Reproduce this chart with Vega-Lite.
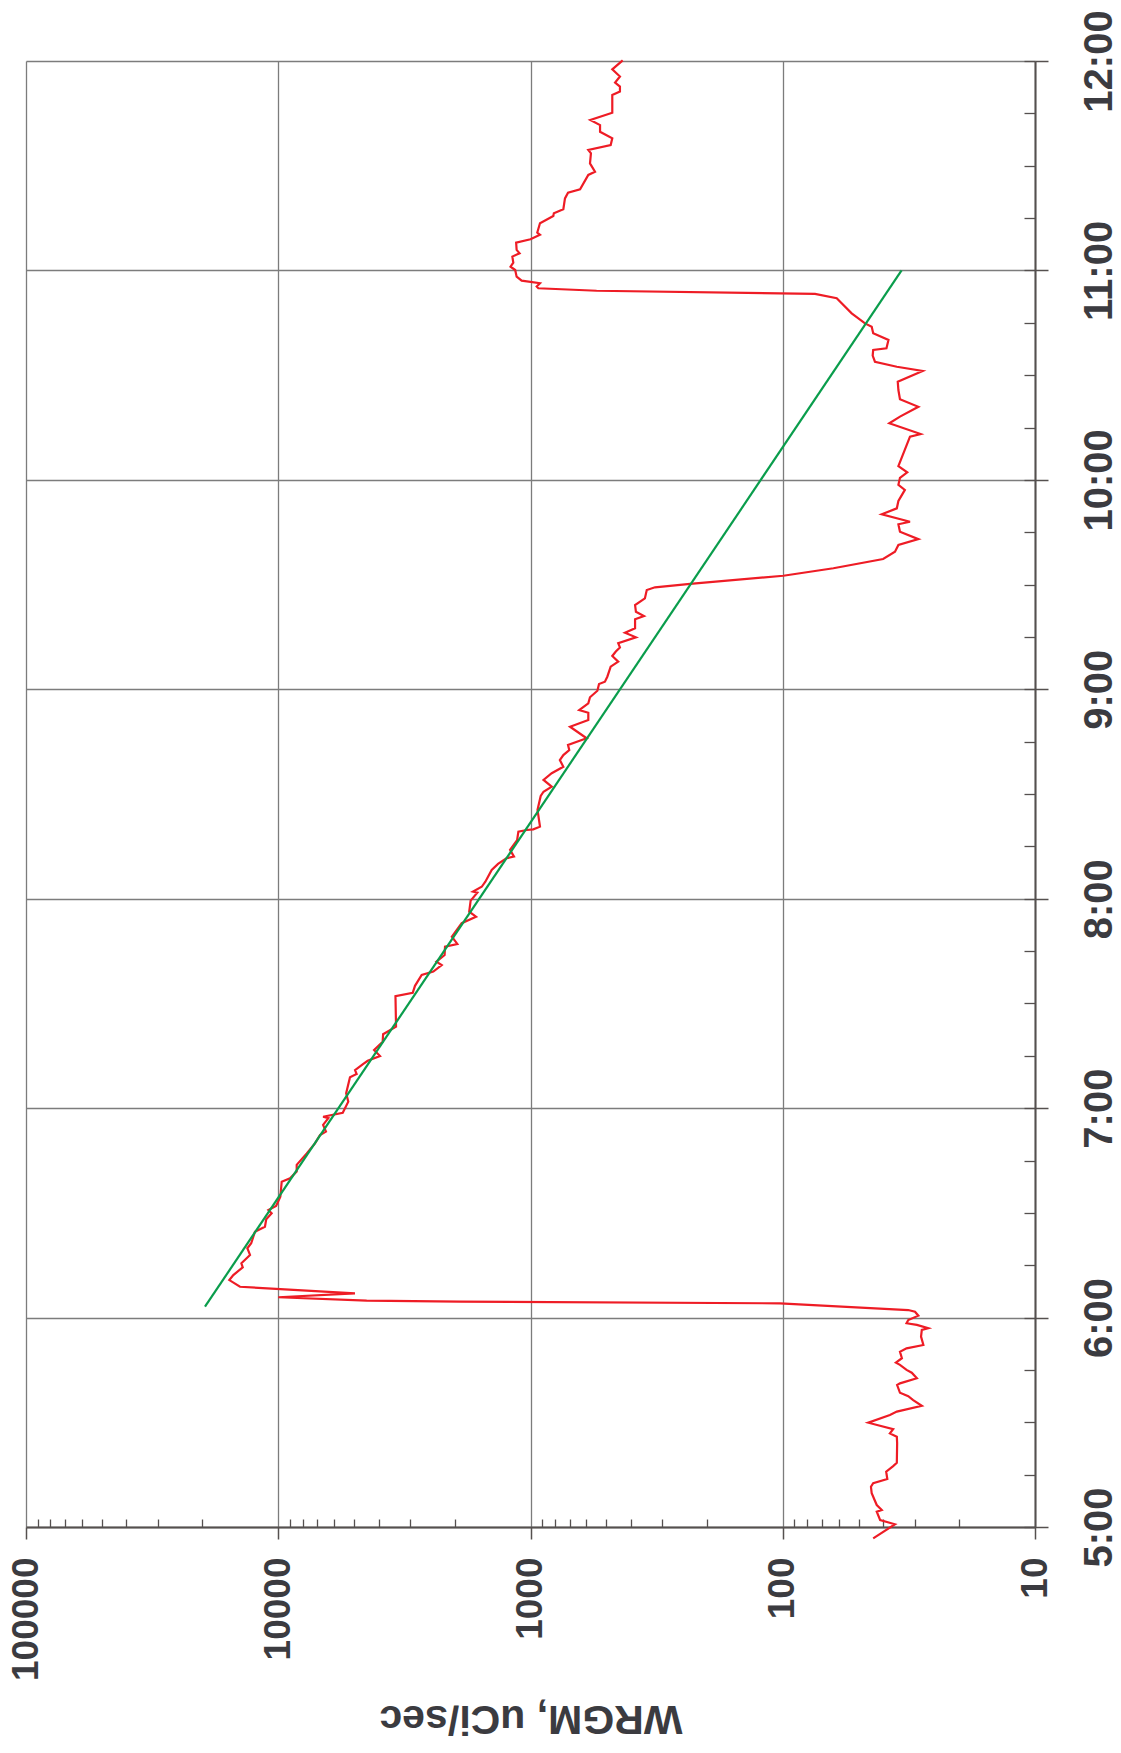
{
  "$schema": "https://vega.github.io/schema/vega-lite/v6.json",
  "width": 1009,
  "height": 1466,
  "autosize": {"type": "none"},
  "padding": {"left": 26, "top": 61, "right": 86, "bottom": 226},
  "background": "white",
  "config": {"view": {"stroke": null}},
  "datasets": {
    "wrgm": [
      {"hour": 4.946, "v": 43.8}, {"hour": 5.013, "v": 35.9}, {"hour": 5.033, "v": 41.1}, {"hour": 5.073, "v": 42.4},
      {"hour": 5.081, "v": 40.5}, {"hour": 5.105, "v": 42.4}, {"hour": 5.161, "v": 44.4}, {"hour": 5.192, "v": 44.7},
      {"hour": 5.209, "v": 43.8}, {"hour": 5.229, "v": 38.5}, {"hour": 5.264, "v": 38.9}, {"hour": 5.291, "v": 36.5},
      {"hour": 5.307, "v": 35.3}, {"hour": 5.400, "v": 35.2}, {"hour": 5.431, "v": 35.3}, {"hour": 5.447, "v": 37.6},
      {"hour": 5.467, "v": 36.5}, {"hour": 5.498, "v": 45.8}, {"hour": 5.535, "v": 37.6}, {"hour": 5.551, "v": 35.3},
      {"hour": 5.579, "v": 28.1}, {"hour": 5.606, "v": 30.4}, {"hour": 5.625, "v": 31.8}, {"hour": 5.641, "v": 34.3},
      {"hour": 5.678, "v": 35.2}, {"hour": 5.686, "v": 34.3}, {"hour": 5.710, "v": 29.4}, {"hour": 5.737, "v": 30.8},
      {"hour": 5.750, "v": 32.3}, {"hour": 5.774, "v": 34.3}, {"hour": 5.785, "v": 35.6}, {"hour": 5.806, "v": 33.7},
      {"hour": 5.837, "v": 34.3}, {"hour": 5.853, "v": 32.3}, {"hour": 5.869, "v": 27.7}, {"hour": 5.909, "v": 28.3},
      {"hour": 5.941, "v": 28.1}, {"hour": 5.949, "v": 26.5}, {"hour": 5.965, "v": 29.4}, {"hour": 5.973, "v": 32.3},
      {"hour": 5.988, "v": 31.8}, {"hour": 6.009, "v": 29.0}, {"hour": 6.028, "v": 29.9}, {"hour": 6.036, "v": 31.8},
      {"hour": 6.068, "v": 102.6}, {"hour": 6.076, "v": 1903}, {"hour": 6.081, "v": 4462}, {"hour": 6.097, "v": 10000},
      {"hour": 6.116, "v": 4965}, {"hour": 6.147, "v": 14180}, {"hour": 6.179, "v": 15630}, {"hour": 6.203, "v": 15070},
      {"hour": 6.240, "v": 13830}, {"hour": 6.259, "v": 14000}, {"hour": 6.299, "v": 12940}, {"hour": 6.331, "v": 13260},
      {"hour": 6.355, "v": 12800}, {"hour": 6.410, "v": 12370}, {"hour": 6.434, "v": 11290}, {"hour": 6.469, "v": 11160},
      {"hour": 6.498, "v": 10620}, {"hour": 6.514, "v": 10940}, {"hour": 6.533, "v": 10200}, {"hour": 6.577, "v": 9810},
      {"hour": 6.649, "v": 9690}, {"hour": 6.665, "v": 8980}, {"hour": 6.697, "v": 8450}, {"hour": 6.729, "v": 8450},
      {"hour": 6.784, "v": 7710}, {"hour": 6.832, "v": 7150}, {"hour": 6.872, "v": 6830}, {"hour": 6.888, "v": 6470},
      {"hour": 6.920, "v": 6640}, {"hour": 6.952, "v": 6330}, {"hour": 6.959, "v": 6640}, {"hour": 6.978, "v": 5550},
      {"hour": 7.031, "v": 5277}, {"hour": 7.071, "v": 5380}, {"hour": 7.147, "v": 5195}, {"hour": 7.163, "v": 4890},
      {"hour": 7.182, "v": 4960}, {"hour": 7.211, "v": 4600}, {"hour": 7.226, "v": 4420}, {"hour": 7.249, "v": 3950},
      {"hour": 7.278, "v": 4170}, {"hour": 7.317, "v": 3855}, {"hour": 7.353, "v": 3840}, {"hour": 7.389, "v": 3412},
      {"hour": 7.535, "v": 3430}, {"hour": 7.551, "v": 2930}, {"hour": 7.584, "v": 2870}, {"hour": 7.636, "v": 2700},
      {"hour": 7.652, "v": 2428}, {"hour": 7.683, "v": 2249}, {"hour": 7.699, "v": 2360}, {"hour": 7.731, "v": 2190},
      {"hour": 7.771, "v": 2182}, {"hour": 7.784, "v": 1950}, {"hour": 7.819, "v": 2050}, {"hour": 7.883, "v": 1874},
      {"hour": 7.914, "v": 1644}, {"hour": 7.938, "v": 1750}, {"hour": 7.991, "v": 1727}, {"hour": 8.029, "v": 1625},
      {"hour": 8.034, "v": 1690}, {"hour": 8.057, "v": 1561}, {"hour": 8.081, "v": 1510}, {"hour": 8.137, "v": 1425},
      {"hour": 8.166, "v": 1345}, {"hour": 8.193, "v": 1245}, {"hour": 8.201, "v": 1163}, {"hour": 8.233, "v": 1205},
      {"hour": 8.280, "v": 1130}, {"hour": 8.320, "v": 1117}, {"hour": 8.328, "v": 1035}, {"hour": 8.331, "v": 975},
      {"hour": 8.344, "v": 917}, {"hour": 8.424, "v": 938}, {"hour": 8.491, "v": 911}, {"hour": 8.511, "v": 888},
      {"hour": 8.535, "v": 824}, {"hour": 8.567, "v": 888}, {"hour": 8.599, "v": 824}, {"hour": 8.630, "v": 741},
      {"hour": 8.662, "v": 765}, {"hour": 8.686, "v": 741}, {"hour": 8.710, "v": 702}, {"hour": 8.734, "v": 710},
      {"hour": 8.766, "v": 599}, {"hour": 8.821, "v": 697}, {"hour": 8.853, "v": 590}, {"hour": 8.888, "v": 590},
      {"hour": 8.901, "v": 641}, {"hour": 8.933, "v": 590}, {"hour": 8.962, "v": 581}, {"hour": 8.993, "v": 543},
      {"hour": 9.025, "v": 535}, {"hour": 9.036, "v": 507}, {"hour": 9.060, "v": 496}, {"hour": 9.108, "v": 481},
      {"hour": 9.132, "v": 449}, {"hour": 9.159, "v": 474}, {"hour": 9.180, "v": 459}, {"hour": 9.200, "v": 442},
      {"hour": 9.220, "v": 449}, {"hour": 9.248, "v": 382}, {"hour": 9.270, "v": 422}, {"hour": 9.291, "v": 385},
      {"hour": 9.334, "v": 385}, {"hour": 9.350, "v": 355}, {"hour": 9.370, "v": 382}, {"hour": 9.402, "v": 385},
      {"hour": 9.434, "v": 352}, {"hour": 9.474, "v": 346}, {"hour": 9.487, "v": 321}, {"hour": 9.503, "v": 233},
      {"hour": 9.542, "v": 99.5}, {"hour": 9.578, "v": 63}, {"hour": 9.622, "v": 40}, {"hour": 9.657, "v": 35.9},
      {"hour": 9.689, "v": 34.8}, {"hour": 9.717, "v": 29.0}, {"hour": 9.752, "v": 34.3}, {"hour": 9.788, "v": 34.8},
      {"hour": 9.800, "v": 31.3}, {"hour": 9.836, "v": 40.5}, {"hour": 9.864, "v": 35.3}, {"hour": 9.899, "v": 34.8},
      {"hour": 9.952, "v": 32.8}, {"hour": 9.976, "v": 34.8}, {"hour": 10.010, "v": 34.3}, {"hour": 10.036, "v": 32.1},
      {"hour": 10.066, "v": 34.8}, {"hour": 10.206, "v": 31.3}, {"hour": 10.219, "v": 28.4}, {"hour": 10.270, "v": 37.8},
      {"hour": 10.302, "v": 34.3}, {"hour": 10.349, "v": 29.0}, {"hour": 10.385, "v": 34.3}, {"hour": 10.429, "v": 34.8},
      {"hour": 10.469, "v": 35.0}, {"hour": 10.520, "v": 27.9}, {"hour": 10.540, "v": 35.3}, {"hour": 10.564, "v": 43.1},
      {"hour": 10.593, "v": 44.0}, {"hour": 10.620, "v": 43.8}, {"hour": 10.628, "v": 38.8}, {"hour": 10.668, "v": 38.1},
      {"hour": 10.700, "v": 43.8}, {"hour": 10.731, "v": 44.4}, {"hour": 10.747, "v": 47.2}, {"hour": 10.795, "v": 53.3},
      {"hour": 10.867, "v": 61.1}, {"hour": 10.888, "v": 74.5}, {"hour": 10.903, "v": 547}, {"hour": 10.915, "v": 931},
      {"hour": 10.923, "v": 945}, {"hour": 10.939, "v": 917}, {"hour": 10.951, "v": 1084}, {"hour": 10.970, "v": 1135},
      {"hour": 11.002, "v": 1150}, {"hour": 11.018, "v": 1200}, {"hour": 11.037, "v": 1170}, {"hour": 11.066, "v": 1180},
      {"hour": 11.082, "v": 1105}, {"hour": 11.098, "v": 1135}, {"hour": 11.133, "v": 1140}, {"hour": 11.149, "v": 1000},
      {"hour": 11.170, "v": 917}, {"hour": 11.181, "v": 940}, {"hour": 11.225, "v": 917}, {"hour": 11.260, "v": 812},
      {"hour": 11.273, "v": 808}, {"hour": 11.292, "v": 741}, {"hour": 11.344, "v": 730}, {"hour": 11.371, "v": 710},
      {"hour": 11.387, "v": 636}, {"hour": 11.456, "v": 590}, {"hour": 11.471, "v": 555}, {"hour": 11.511, "v": 581},
      {"hour": 11.559, "v": 576}, {"hour": 11.575, "v": 590}, {"hour": 11.599, "v": 481}, {"hour": 11.631, "v": 474},
      {"hour": 11.662, "v": 530}, {"hour": 11.694, "v": 530}, {"hour": 11.718, "v": 579}, {"hour": 11.753, "v": 474},
      {"hour": 11.838, "v": 474}, {"hour": 11.854, "v": 442}, {"hour": 11.878, "v": 442}, {"hour": 11.897, "v": 462},
      {"hour": 11.926, "v": 442}, {"hour": 11.960, "v": 474}, {"hour": 12.003, "v": 431}
    ],
    "decayFit": [
      {"hour": 6.052, "v": 19520},
      {"hour": 11.0, "v": 33.8}
    ]
  },
  "layer": [
    {
      "data": {"name": "wrgm"},
      "mark": {"type": "line", "color": "#ee1c25", "strokeWidth": 2.2, "clip": false},
      "encoding": {
        "order": {"field": "hour", "type": "quantitative"},
        "x": {
          "field": "v",
          "type": "quantitative",
          "scale": {"type": "log", "domain": [10, 100000], "reverse": true, "nice": false},
          "axis": {
            "orient": "bottom",
            "values": [10, 100, 1000, 10000, 100000],
            "format": "d",
            "labelAngle": 270,
            "labelAlign": "right",
            "labelBaseline": "middle",
            "labelFont": "Liberation Sans",
            "labelFontWeight": "bold",
            "labelFontSize": 37,
            "labelColor": "#3b3b40",
            "labelPadding": 18,
            "labelFlush": false,
            "labelOverlap": false,
            "labelBound": false,
            "tickSize": 12,
            "tickColor": "#55504f",
            "tickWidth": 1.5,
            "domainColor": "#55504f",
            "domainWidth": 2,
            "grid": true,
            "gridColor": "#7c7c7c",
            "gridWidth": 1.3,
            "title": "WRGM, uCi/sec",
            "titleAngle": 180,
            "titleFont": "Liberation Sans",
            "titleFontWeight": "bold",
            "titleFontSize": 41,
            "titleColor": "#3b3b40",
            "titleAlign": "center",
            "titleBaseline": "alphabetic",
            "titleY": 178
          }
        },
        "y": {
          "field": "hour",
          "type": "quantitative",
          "scale": {"domain": [5, 12], "nice": false, "zero": false},
          "axis": {
            "orient": "right",
            "values": [5, 6, 7, 8, 9, 10, 11, 12],
            "labelExpr": "datum.value + ':00'",
            "labelAngle": 270,
            "labelAlign": "center",
            "labelBaseline": "top",
            "labelFont": "Liberation Sans",
            "labelFontWeight": "bold",
            "labelFontSize": 40,
            "labelColor": "#3b3b40",
            "labelPadding": 31,
            "labelFlush": false,
            "labelOverlap": false,
            "labelBound": false,
            "tickSize": 13,
            "tickColor": "#55504f",
            "tickWidth": 1.5,
            "domainColor": "#55504f",
            "domainWidth": 2,
            "grid": true,
            "gridColor": "#7c7c7c",
            "gridWidth": 1.3,
            "title": null
          }
        }
      }
    },
    {
      "data": {"name": "decayFit"},
      "mark": {"type": "line", "color": "#0a9d4c", "strokeWidth": 2.2, "clip": false},
      "encoding": {
        "order": {"field": "hour", "type": "quantitative"},
        "x": {
          "field": "v",
          "type": "quantitative",
          "axis": {
            "orient": "bottom",
            "values": [20, 30, 40, 50, 60, 70, 80, 90, 200, 300, 400, 500, 600, 700, 800, 900, 2000, 3000, 4000, 5000, 6000, 7000, 8000, 9000, 20000, 30000, 40000, 50000, 60000, 70000, 80000, 90000],
            "labels": false,
            "domain": false,
            "grid": false,
            "tickSize": -8,
            "tickColor": "#55504f",
            "tickWidth": 1.3,
            "title": null
          }
        },
        "y": {
          "field": "hour",
          "type": "quantitative",
          "axis": {
            "orient": "right",
            "values": [5, 5.25, 5.5, 5.75, 6, 6.25, 6.5, 6.75, 7, 7.25, 7.5, 7.75, 8, 8.25, 8.5, 8.75, 9, 9.25, 9.5, 9.75, 10, 10.25, 10.5, 10.75, 11, 11.25, 11.5, 11.75, 12],
            "labels": false,
            "domain": false,
            "grid": false,
            "tickSize": -11,
            "tickColor": "#55504f",
            "tickWidth": 1.3,
            "title": null
          }
        }
      }
    }
  ],
  "resolve": {"axis": {"x": "independent", "y": "independent"}}
}
